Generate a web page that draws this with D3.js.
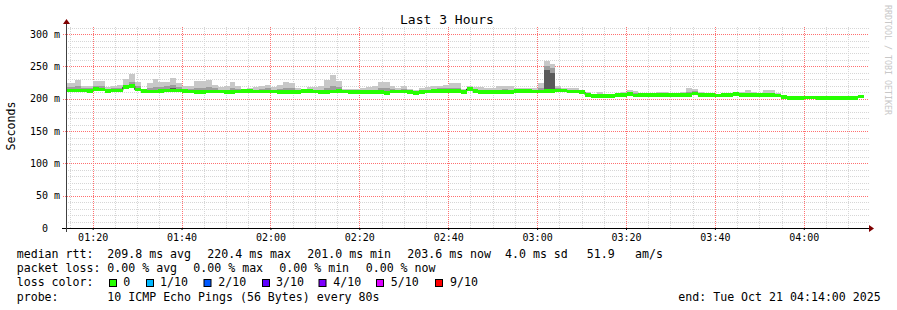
<!DOCTYPE html>
<html>
<head>
<meta charset="utf-8">
<script src="https://cdn.jsdelivr.net/npm/d3@7"></script>
<style>
  body { margin: 0; background: #fff; }
  text { font-family: "DejaVu Sans Mono", monospace; fill: #000; white-space: pre; }
</style>
</head>
<body>
<svg id="chart" width="897" height="310"></svg>
<script>
// window of the graph and RRD step
var startTime = new Date(2025, 9, 21, 1, 14, 0);
var endTime = new Date(2025, 9, 21, 4, 14, 0);
var stepSeconds = 80;
var stepOffset = -0.4;   // first step begins a bit before the window

// median rtt per step (ms)
var median = [213,
  213,213,213,212,215,214,212,213,213,218,
  220,214,212,211,211,212,213,213,213,212,
  211,210,210,211,211,211,210,210,211,212,
  212,211,211,211,211,210,210,210,210,212,
  212,211,210,210,211,212,211,210,210,210,
  210,210,210,209,211,211,211,210,209,210,
  211,212,212,212,212,212,210,215,212,210,
  210,210,210,210,210,212,212,212,211,211,
  212,212,213,213,211,211,210,206,204,204,
  204,204,206,206,207,205,206,206,206,206,
  206,206,206,206,206,208,206,206,206,205,
  206,206,207,206,206,206,206,206,206,205,
  203,201,201,201,202,202,201,201,201,201,
  201,201,201,203.6];

// smoke: outer (max), middle and inner bands (ms)
var smokeHi = [225,
  225,229,220,220,227,227,218,220,222,230,
  238,226,214,224,230,226,226,232,224,220,
  220,228,228,229,222,218,220,226,220,215,
  216,218,220,222,218,221,226,224,216,214,
  218,218,219,229,236,227,215,215,215,217,
  218,220,226,226,220,217,220,215,213,216,
  218,219,220,222,224,224,215,219,218,218,
  216,217,219,220,220,217,217,216,217,224,
  259,254,219,216,217,216,213,210,207,210,
  208,207,209,211,213,212,209,209,209,211,
  211,209,209,211,216,215,210,208,208,208,
  209,209,209,211,214,211,209,213,213,209,
  206,202,203,203,203,204,202,203,205,204,
  204,203,203,205];

var smokeMid = [218,
  218,220,216,216,220,219,215,216,217,222,
  226,219,213,216,218,218,219,221,218,215,
  215,216,216,218,216,214,214,216,215,213,
  214,214,215,216,214,215,217,216,213,213,
  215,214,214,217,220,218,213,212,212,213,
  214,214,217,216,215,214,215,212,211,213,
  214,215,216,216,217,217,212,217,215,214,
  213,213,214,215,214,214,214,214,214,216,
  251,248,216,214,214,213,212,208,205,206,
  206,205,207,208,210,209,207,207,207,209,
  209,207,207,208,211,212,208,207,207,206,
  207,207,208,208,209,208,207,209,209,207,
  204,201,202,202,202,203,201,202,204,203,
  202,202,202,204];

var smokeIn = [215,
  215,215,215,214,217,216,214,215,215,222,
  223,216,213,213,213,214,215,216,215,213,
  213,212,212,213,213,212,212,212,213,213,
  213,213,213,213,213,212,212,212,212,213,
  213,213,212,212,214,214,212,211,211,211,
  211,211,212,211,212,212,212,211,210,211,
  212,213,213,213,214,213,211,216,213,211,
  211,211,211,212,211,213,213,213,212,212,
  244,240,214,214,212,212,211,207,205,205,
  205,205,207,207,208,206,207,207,207,207,
  207,207,207,207,208,211,207,207,207,206,
  207,207,208,207,207,207,207,207,207,206,
  204,201,202,202,203,203,201,201,204,202,
  202,202,202,204];

var yTicks = [0, 50, 100, 150, 200, 250, 300];
var xTickHours = [[1,20],[1,40],[2,0],[2,20],[2,40],[3,0],[3,20],[3,40],[4,0]];

var rttLabel = "median rtt:";
var rttStats = ["209.8 ms avg", "220.4 ms max", "201.0 ms min", "203.6 ms now", "4.0 ms sd", "51.9", "am/s"];
var lossLabel = "packet loss:";
var lossStats = ["0.00 % avg", "0.00 % max", "0.00 % min", "0.00 % now"];
var lossColorLabel = "loss color:";
var lossNames = ["0", "1/10", "2/10", "3/10", "4/10", "5/10", "9/10"];
var lossColors = ["#26ff00", "#00b8ff", "#0059ff", "#5e00ff", "#7e00ff", "#dd00ff", "#ff0000"];
var probeLabel = "probe:";
var probeText = "10 ICMP Echo Pings (56 Bytes) every 80s";
var endText = "end: Tue Oct 21 04:14:00 2025";

var plot = { left: 66, right: 866, top: 27, bottom: 228 };

var x = d3.scaleTime().domain([startTime, endTime]).range([plot.left, plot.right]);
var y = d3.scaleLinear().domain([0, 311]).range([plot.bottom, plot.top]);

var svg = d3.select("#chart");
svg.append("rect").attr("width", 897).attr("height", 310).attr("fill", "#fff");

svg.append("defs").append("clipPath").attr("id", "clip")
    .append("rect")
    .attr("x", plot.left).attr("y", plot.top)
    .attr("width", plot.right - plot.left).attr("height", plot.bottom - plot.top);

// grid
var grid = svg.append("g").attr("shape-rendering", "crispEdges");
var minorX = d3.timeMinute.every(5).range(startTime, endTime).filter(function (d) { return d.getMinutes() % 20 != 0; });
var majorX = xTickHours.map(function (h) { return new Date(2025, 9, 21, h[0], h[1], 0); });
var minorY = d3.range(10, 311, 10).filter(function (v) { return v % 50 != 0; });

function vLines(list, color) {
    grid.append("g").selectAll("line").data(list).enter().append("line")
        .attr("x1", function (d) { return Math.round(x(d)) + 0.5; })
        .attr("x2", function (d) { return Math.round(x(d)) + 0.5; })
        .attr("y1", plot.bottom).attr("y2", plot.top)
        .attr("stroke", color).attr("stroke-dasharray", "1,1");
}
function hLines(list, color, x0) {
    grid.append("g").selectAll("line").data(list).enter().append("line")
        .attr("y1", function (d) { return Math.round(y(d)) + 0.5; })
        .attr("y2", function (d) { return Math.round(y(d)) + 0.5; })
        .attr("x1", x0).attr("x2", plot.right + 3)
        .attr("stroke", color).attr("stroke-dasharray", "1,1");
}
vLines(minorX, "#d6d6d6");
hLines(minorY, "#d6d6d6", plot.left);
vLines(majorX, "#ff7070");
hLines(yTicks.slice(1), "#ff7070", plot.left - 3);

// smoke and median
function stepStart(i) {
    return new Date(startTime.getTime() + (i + stepOffset) * stepSeconds * 1000);
}
var data = median.map(function (m, i) {
    return { i: i, m: m, hi: smokeHi[i], mid: smokeMid[i], inner: smokeIn[i] };
});

var g = svg.append("g").attr("clip-path", "url(#clip)");

function band(key, color) {
    g.append("g").selectAll("rect").data(data).enter().append("rect")
        .attr("shape-rendering", "crispEdges")
        .attr("x", function (d) { return x(stepStart(d.i)); })
        .attr("width", function (d) { return x(stepStart(d.i + 1)) - x(stepStart(d.i)); })
        .attr("y", function (d) { return y(d[key]); })
        .attr("height", function (d) { return Math.max(0, y(d.m) - y(d[key])); })
        .attr("fill", color);
}
band("hi", "#c8c8c8");
band("mid", "#9d9d9d");
band("inner", "#5a5a5a");

var linePts = data.map(function (d) { return [stepStart(d.i), d.m]; });
linePts.push([stepStart(data.length), median[median.length - 1]]);
g.append("path")
    .datum(linePts)
    .attr("fill", "none")
    .attr("stroke", "#202020")
    .attr("stroke-width", 1)
    .attr("d", d3.line().curve(d3.curveStepAfter)
        .x(function (d) { return x(d[0]); })
        .y(function (d) { return y(d[1]); }));

g.append("g").selectAll("rect").data(data).enter().append("rect")
    .attr("shape-rendering", "crispEdges")
    .attr("x", function (d) { return x(stepStart(d.i)); })
    .attr("width", function (d) { return x(stepStart(d.i + 1)) - x(stepStart(d.i)); })
    .attr("y", function (d) { return y(d.m) - 1.8; })
    .attr("height", 3.6)
    .attr("fill", lossColors[0]);

// axes
var xAxis = d3.axisBottom(x).tickValues(majorX).tickFormat(d3.timeFormat("%H:%M"))
    .tickSize(2).tickPadding(4);
svg.append("g").attr("transform", "translate(0," + plot.bottom + ")").call(xAxis)
    .call(function (a) { a.select(".domain").remove(); })
    .call(function (a) { a.selectAll("text").attr("font-size", 10).attr("font-family", "DejaVu Sans Mono"); });

var yAxis = d3.axisLeft(y).tickValues(yTicks)
    .tickFormat(function (v) { return v == 0 ? "0  " : v + " m"; })
    .tickSize(3).tickPadding(3);
svg.append("g").attr("transform", "translate(" + plot.left + ",0)").call(yAxis)
    .call(function (a) { a.select(".domain").remove(); })
    .call(function (a) { a.selectAll("line").remove(); })
    .call(function (a) { a.selectAll("text").attr("font-size", 10).attr("font-family", "DejaVu Sans Mono"); });

svg.append("line").attr("x1", plot.left - 4).attr("x2", plot.right + 3)
    .attr("y1", plot.bottom + 0.5).attr("y2", plot.bottom + 0.5).attr("stroke", "#000");
svg.append("line").attr("x1", plot.left + 0.5).attr("x2", plot.left + 0.5)
    .attr("y1", plot.bottom + 4).attr("y2", plot.top - 3).attr("stroke", "#404040");
svg.append("path").attr("fill", "#7f0000")
    .attr("d", "M" + (plot.right + 3) + "," + (plot.bottom - 3) + "L" + (plot.right + 8) + "," + (plot.bottom + 0.5) + "L" + (plot.right + 3) + "," + (plot.bottom + 4) + "Z");
svg.append("path").attr("fill", "#7f0000")
    .attr("d", "M" + (plot.left - 3) + "," + (plot.top - 3) + "L" + (plot.left + 0.5) + "," + (plot.top - 8) + "L" + (plot.left + 4) + "," + (plot.top - 3) + "Z");

// titles
svg.append("text").attr("x", 447).attr("y", 24).attr("text-anchor", "middle")
    .attr("font-size", 13).text("Last 3 Hours");
svg.append("text").attr("transform", "translate(15,126) rotate(-90)").attr("text-anchor", "middle")
    .attr("font-size", 11.6).text("Seconds");
svg.append("text").attr("transform", "translate(885,5) rotate(90)")
    .attr("font-size", 8.3).style("fill", "#c8c8c8").text("RRDTOOL / TOBI OETIKER");

// legend
var leg = svg.append("g").attr("font-size", 11.6);
var row1X = [107.3, 207.3, 307.3, 407.3, 505, 586.7, 635];
var row2X = [107.3, 193.3, 279.3, 365.7];
var boxX = [109, 146, 203.5, 262, 318.5, 376, 435];
var nameX = [123.3, 160, 218.3, 276, 333.3, 390.7, 450];

leg.append("text").attr("x", 16.7).attr("y", 258).text(rttLabel);
rttStats.forEach(function (s, i) { leg.append("text").attr("x", row1X[i]).attr("y", 258).text(s); });
leg.append("text").attr("x", 16.7).attr("y", 272).text(lossLabel);
lossStats.forEach(function (s, i) { leg.append("text").attr("x", row2X[i]).attr("y", 272).text(s); });
leg.append("text").attr("x", 16.7).attr("y", 286.3).text(lossColorLabel);
lossNames.forEach(function (s, i) {
    leg.append("rect").attr("x", boxX[i] + 0.5).attr("y", 279.5).attr("width", 7).attr("height", 7)
        .attr("fill", lossColors[i]).attr("stroke", "#000").attr("stroke-width", 1);
    leg.append("text").attr("x", nameX[i]).attr("y", 286.3).text(s);
});
leg.append("text").attr("x", 16.7).attr("y", 300.5).text(probeLabel);
leg.append("text").attr("x", 107.3).attr("y", 300.5).text(probeText);
leg.append("text").attr("x", 678.3).attr("y", 300.5).text(endText);
</script>
</body>
</html>
